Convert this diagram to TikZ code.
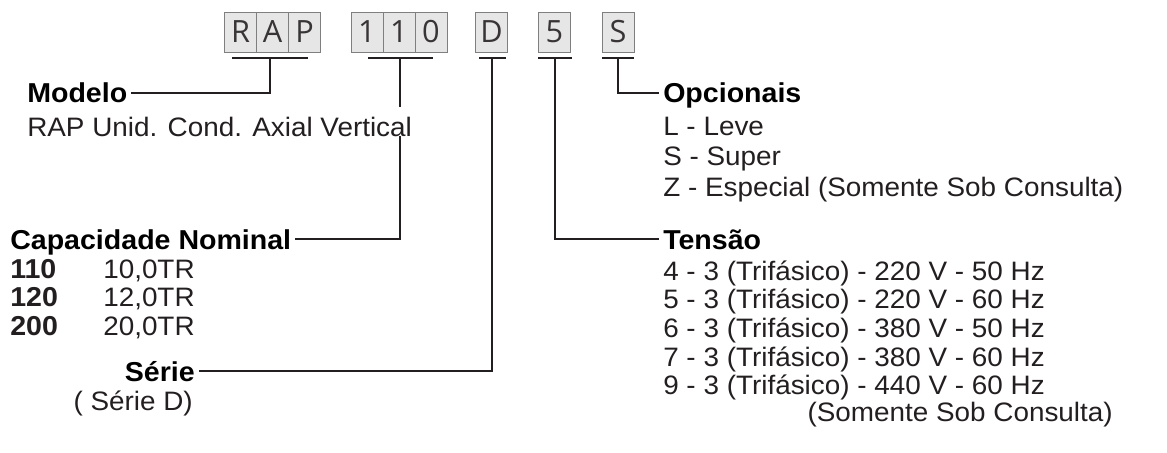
\documentclass[tikz,border=0pt]{standalone}
\usepackage{fontspec}
\setmainfont{Liberation Sans}[FakeStretch=1.045]
\newfontfamily\cellfont{Open Sans}
\usepackage{xcolor}
\usetikzlibrary{positioning,backgrounds}
\definecolor{ink}{HTML}{231F20}
\definecolor{cellgray}{HTML}{E6E6E6}
\definecolor{cellline}{HTML}{7F7F7F}

\begin{document}
\begin{tikzpicture}[x=0.75pt, y=-0.75pt,
    cell/.style={draw=cellline, fill=cellgray, line width=0.6pt,
                 minimum width=24pt, minimum height=30pt, inner sep=0pt,
                 outer sep=0pt, text=ink!90,
                 font=\cellfont\fontsize{23}{27}\selectfont},
    bar/.style={line width=1.6pt, draw=ink},
    link/.style={line width=1.5pt, draw=ink},
    head/.style={font=\fontsize{20.5}{24}\selectfont\bfseries, inner sep=3pt,
                 text depth=0pt},
    item/.style={font=\fontsize{20}{24}\selectfont, text=ink, inner sep=0pt,
                 text height=15pt, text depth=6.15pt},
    code/.style={item, font=\fontsize{20.5}{24}\selectfont\bfseries}]
        \useasboundingbox (0,0) rectangle (1167,453);

        % Code cells
        \node[cell] (r) at (240.5,32) {R};
        \node[cell, right=0pt of r] (a) {A};
        \node[cell, right=0pt of a] (p) {P};
        \node[cell] (n1) at (367,32) {1};
        \node[cell, right=0pt of n1] (n2) {1};
        \node[cell, right=0pt of n2] (n3) {0};
        \node[cell] (d) at (491.5,32) {D};
        \node[cell] (v) at (554.5,32) {5};
        \node[cell] (s) at (618,32) {S};

        % Bars under the cells
        \draw[bar] (232,58) -- (308,58);
        \draw[bar] (368,58) -- (433,58);
        \draw[bar] (479,58) -- (506,58);
        \draw[bar] (538,58) -- (572,58);
        \draw[bar] (602,58) -- (634,58);
        \coordinate (rapbar) at (270,58);
        \coordinate (nombar) at (400,58);
        \coordinate (dbar) at (492,58);
        \coordinate (vbar) at (555,58);
        \coordinate (sbar) at (618,58);

        % Modelo
        \node[head, anchor=base west] (modelo) at (23,103) {Modelo};
        \node[item, anchor=base west, fill=white, text height=22pt,
              text depth=0pt] (rapdesc) at (27,136)
              {RAP Unid. Cond. Axial Vertical};

        % Capacidade
        \node[head, anchor=base west] (capac) at (6,249) {Capacidade Nominal};
        \node[code, anchor=base west] (c1) at (10,278) {110};
        \node[code, below=0pt of c1.south west, anchor=north west] (c2) {120};
        \node[code, below=0pt of c2.south west, anchor=north west] (c3) {200};
        \node[item, anchor=base west] (t1) at (103,278) {10,0TR};
        \node[item, below=0pt of t1.south west, anchor=north west] (t2) {12,0TR};
        \node[item, below=0pt of t2.south west, anchor=north west] (t3) {20,0TR};

        % Serie
        \node[head, anchor=base east] (serie) at (199,381) {Série};
        \node[item, anchor=base east] (seried) at (193,410) {( Série D)};

        % Opcionais
        \node[head, anchor=base west] (opc) at (659,103) {Opcionais};
        \node[item, anchor=base west] (o1) at (663,135) {L - Leve};
        \node[item, below=1.35pt of o1.south west, anchor=north west] (o2) {S - Super};
        \node[item, below=1.35pt of o2.south west, anchor=north west] (o3)
              {Z - Especial (Somente Sob Consulta)};

        % Tensao
        \node[head, anchor=base west] (tens) at (659,249) {Tensão};
        \node[item, anchor=base west] (v1) at (663,280)
              {4 - 3 (Trifásico) - 220 V - 50 Hz};
        \node[item, below=0pt of v1.south west, anchor=north west] (v2)
              {5 - 3 (Trifásico) - 220 V - 60 Hz};
        \node[item, below=0pt of v2.south west, anchor=north west] (v3)
              {6 - 3 (Trifásico) - 380 V - 50 Hz};
        \node[item, below=0pt of v3.south west, anchor=north west] (v4)
              {7 - 3 (Trifásico) - 380 V - 60 Hz};
        \node[item, below=0pt of v4.south west, anchor=north west] (v5)
              {9 - 3 (Trifásico) - 440 V - 60 Hz};
        \node[item, anchor=base east] (v6) at (1113,421)
              {(Somente Sob Consulta)};

        % Links
        \begin{scope}[on background layer]
            \draw[link] (rapbar) |- (modelo.east);
            \draw[link] (nombar) |- (capac.east);
            \draw[link] (dbar) |- (serie.east);
            \draw[link] (vbar) |- (tens.west);
            \draw[link] (sbar) |- (opc.west);
        \end{scope}
    \end{tikzpicture}
\end{document}
